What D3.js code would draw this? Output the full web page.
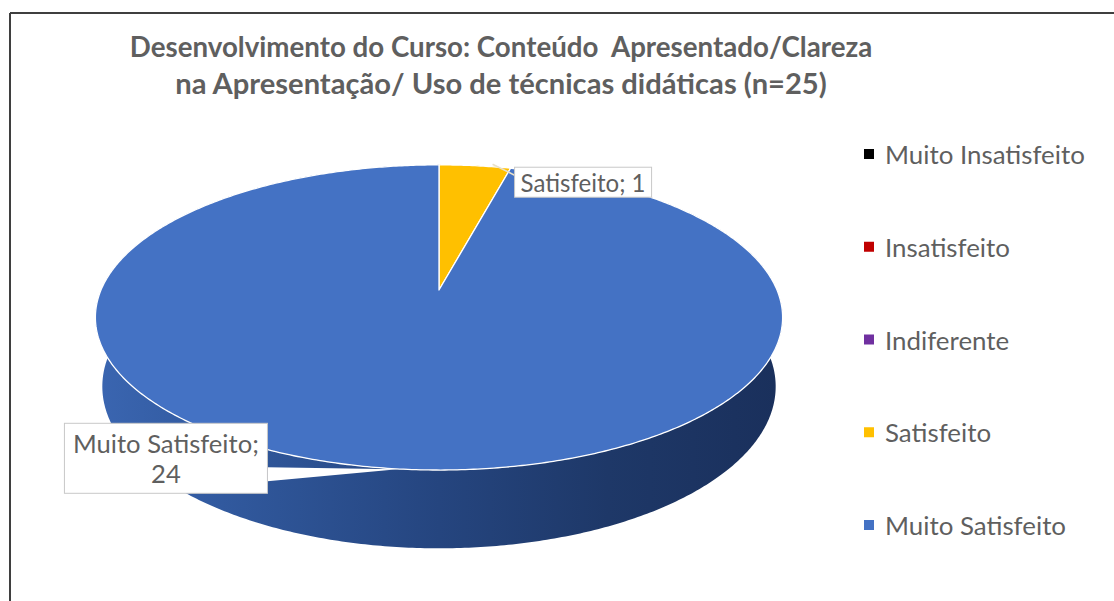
<!DOCTYPE html>
<meta charset="utf-8">
<style>
body {
  margin: 0;
  background: #ffffff;
  font-family: Lato, 'Open Sans', sans-serif;
}
svg {
  display: block;
}
text {
  fill: #5f5f5f;
}
text.title {
  font-weight: 700;
  white-space: pre;
}
.frame {
  stroke: #3f3f3f;
  stroke-width: 2;
}
.box {
  fill: #ffffff;
  stroke: #c8c8c8;
  stroke-width: 1;
}
</style>
<body>
<svg width="1114" height="601"></svg>

<script src="https://d3js.org/d3.v7.min.js"></script>
<script>

    // data
    const categories = ['Muito Insatisfeito', 'Insatisfeito', 'Indiferente', 'Satisfeito', 'Muito Satisfeito'];
    const values = [0, 0, 0, 1, 24];
    const colors = ['#000000', '#c00000', '#7030a0', '#ffc000', '#4472c4'];
    const titleLines = ['Desenvolvimento do Curso: Conteúdo  Apresentado/Clareza', 'na Apresentação/ Uso de técnicas didáticas (n=25)'];

    const svg = d3.select('svg');

    // frame (only the top and left edges show in the picture)
    svg.append('line').attr('class', 'frame').attr('x1', 10).attr('y1', 13).attr('x2', 1114).attr('y2', 13);
    svg.append('line').attr('class', 'frame').attr('x1', 10).attr('y1', 13).attr('x2', 10).attr('y2', 601);

    // font size that makes a text element a given width
    function fitSize(sel, w) {
      sel.style('font-size', '100px');
      const len = sel.node().getComputedTextLength();
      return 100 * w / len;
    }
    function fit(sel, w) {
      sel.style('font-size', fitSize(sel, w) + 'px');
    }

    // title
    const title = svg.append('g');
    [57, 94].forEach((y, i) => {
      const t = title.append('text')
        .attr('class', 'title')
        .attr('x', 501)
        .attr('y', y)
        .attr('text-anchor', 'middle')
        .text(titleLines[i]);
      fit(t, i === 0 ? 743 : 652);
    });

    // 3D pie: perspective projection of a tilted disk
    const cx = 439, cy = 290, F = 338;
    const tilt = 25.9 * Math.PI / 180;
    const sn = Math.sin(tilt), cs = Math.cos(tilt);
    const persp = 0.2;
    const thick = 0.228;

    function proj(a, r, depth) {
      const x = r * Math.sin(a);
      const z = -r * Math.cos(a);
      const den = 1 - persp * (z * cs - depth * sn);
      return [cx + F * x / den, cy + F * (z * sn + depth * cs) / den];
    }

    function arcPts(a0, a1, depth) {
      const n = Math.max(2, Math.ceil((a1 - a0) / 0.01));
      return d3.range(n + 1).map(i => proj(a0 + (a1 - a0) * i / n, 1, depth));
    }

    const pie = d3.pie().sort(null).value(d => d.value).startAngle(0).endAngle(2 * Math.PI);
    const table = categories.map((c, i) => ({ name: c, value: values[i], color: colors[i] }));
    const slices = pie(table).filter(d => d.value > 0);

    const line = d3.line();

    const defs = svg.append('defs');
    const grad = defs.append('linearGradient')
      .attr('id', 'side')
      .attr('gradientUnits', 'userSpaceOnUse')
      .attr('x1', cx - F).attr('y1', 0).attr('x2', cx + F).attr('y2', 0);
    [[0, '#3a65b0'], [0.18, '#31599e'], [0.5, '#25457f'], [0.75, '#1e3868'], [1, '#1a305c']]
      .forEach(s => grad.append('stop').attr('offset', s[0]).attr('stop-color', s[1]));

    const gradY = defs.append('linearGradient')
      .attr('id', 'sideY')
      .attr('gradientUnits', 'userSpaceOnUse')
      .attr('x1', cx - F).attr('y1', 0).attr('x2', cx + F).attr('y2', 0);
    [[0, '#c99700'], [1, '#8a6700']]
      .forEach(s => gradY.append('stop').attr('offset', s[0]).attr('stop-color', s[1]));

    const pieG = svg.append('g');

    // sides
    pieG.selectAll('path.side')
      .data(slices)
      .join('path')
      .attr('class', 'side')
      .attr('fill', d => d.data.name === 'Satisfeito' ? 'url(#sideY)' : 'url(#side)')
      .attr('d', d => {
        const top = arcPts(d.startAngle, d.endAngle, 0);
        const bot = arcPts(d.startAngle, d.endAngle, thick).reverse();
        return line(top.concat(bot)) + 'Z';
      });

    // top faces
    pieG.selectAll('path.top')
      .data(slices)
      .join('path')
      .attr('class', 'top')
      .attr('fill', d => d.data.color)
      .attr('stroke', '#ffffff')
      .attr('stroke-width', 1.3)
      .attr('stroke-linejoin', 'round')
      .attr('d', d => line([proj(0, 0, 0)].concat(arcPts(d.startAngle, d.endAngle, 0))) + 'Z');

    const sat = slices.find(d => d.data.name === 'Satisfeito');
    const muito = slices.find(d => d.data.name === 'Muito Satisfeito');

    // Satisfeito label, to the right of its slice
    {
      const edge = proj(sat.endAngle, 1, 0);
      const bx = edge[0] + 4, by = edge[1] - 1, bw = 137, bh = 30;
      svg.append('line')
        .attr('x1', edge[0] - 18).attr('y1', edge[1] - 4)
        .attr('x2', bx).attr('y2', by + 8)
        .attr('stroke', '#e8e0c8').attr('stroke-width', 1.5);
      svg.append('rect').attr('class', 'box')
        .attr('x', bx).attr('y', by).attr('width', bw).attr('height', bh);
      const t = svg.append('text')
        .attr('x', bx + bw / 2).attr('y', by + bh / 2)
        .attr('text-anchor', 'middle')
        .attr('dominant-baseline', 'central')
        .text(sat.data.name + '; ' + sat.value);
      fit(t, 125);
    }

    // Muito Satisfeito label, at the front left
    {
      const mid = (muito.startAngle + muito.endAngle) / 2;
      const tip = proj(mid, 1, 0);
      const bw = 203, bh = 70;
      const bx = tip[0] - 323, by = tip[1] - 45;
      svg.append('path')
        .attr('fill', '#ffffff')
        .attr('d', line([[bx + bw, by + 44], [bx + bw, by + 58], [tip[0] + 10, tip[1] + 1]]) + 'Z');
      svg.append('rect').attr('class', 'box')
        .attr('x', bx).attr('y', by).attr('width', bw).attr('height', bh);
      const t1 = svg.append('text')
        .attr('x', bx + bw / 2).attr('y', by + 20)
        .attr('text-anchor', 'middle')
        .attr('dominant-baseline', 'central')
        .text(muito.data.name + ';');
      fit(t1, 186);
      svg.append('text')
        .attr('x', bx + bw / 2).attr('y', by + 50)
        .attr('text-anchor', 'middle')
        .attr('dominant-baseline', 'central')
        .style('font-size', t1.style('font-size'))
        .text(muito.value);
    }

    // legend
    const ly = d3.scalePoint().domain(categories).range([154, 525]);
    const legend = svg.append('g')
      .selectAll('g')
      .data(table)
      .join('g')
      .attr('transform', d => `translate(864, ${ly(d.name)})`);

    legend.append('rect')
      .attr('x', 0).attr('y', -5)
      .attr('width', 10).attr('height', 10)
      .attr('fill', d => d.color);

    const legendText = legend.append('text')
      .attr('x', 21)
      .attr('y', 0)
      .attr('dominant-baseline', 'central')
      .text(d => d.name);

    // one size for all entries, set so the first entry is as wide as in the picture
    const legendSize = fitSize(d3.select(legendText.nodes()[0]), 200);
    legendText.style('font-size', legendSize + 'px');

</script>
</body>
